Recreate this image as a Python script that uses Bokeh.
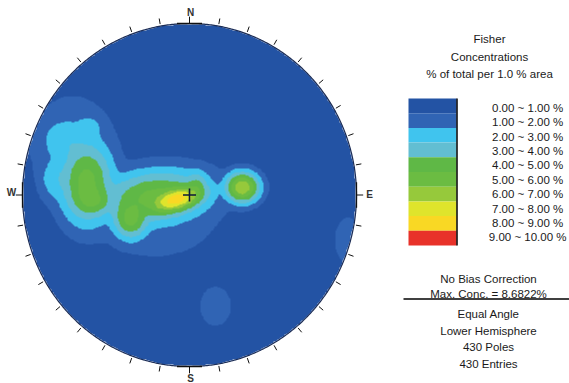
import numpy as np
from bokeh.plotting import figure
from bokeh.models import Range1d, LinearColorMapper
from bokeh.core.properties import value
from bokeh.embed import file_html
from bokeh.resources import INLINE

# ---------------- data ----------------
bin_lower = [0, 1, 2, 3, 4, 5, 6, 7, 8, 9]
bin_labels = ["0.00 ~  1.00 %", "1.00 ~  2.00 %", "2.00 ~  3.00 %", "3.00 ~  4.00 %",
              "4.00 ~  5.00 %", "5.00 ~  6.00 %", "6.00 ~  7.00 %", "7.00 ~  8.00 %",
              "8.00 ~  9.00 %", "9.00 ~ 10.00 %"]
palette = ["#2353a4", "#3064b4", "#40c4ee", "#62bed2", "#5fb846",
           "#6bbc42", "#96c93b", "#dfe42c", "#f9d824", "#e8322a"]

# pole clusters in net coordinates (unit circle, x = east, y = north)
cluster_x = [-0.078, 0.042, -0.204, -0.353, -0.617, -0.743, -0.802, -0.605, -0.581, 0.317, 0.156, 0.952, -0.701, -0.204, 0.036]
cluster_y = [-0.026, 0.055, -0.009, -0.137, 0.073, 0.318, 0.096, 0.388, -0.032, 0.044, -0.650, -0.265, 0.289, -0.102, 0.026]
cluster_sx = [0.132, 0.060, 0.263, 0.090, 0.130, 0.132, 0.084, 0.072, 0.100, 0.082, 0.100, 0.090, 0.240, 0.347, 0.130]
cluster_sy = [0.058, 0.070, 0.125, 0.100, 0.195, 0.117, 0.117, 0.070, 0.075, 0.072, 0.125, 0.150, 0.270, 0.240, 0.130]
cluster_peak = [8.68, 4.2, 5.4, 5.5, 5.5, 2.85, 2.8, 2.8, 5.0, 7.0, 1.55, 1.5, 1.8, 1.8, 1.6]
cluster_rot = [15, 0, 5, 0, 0, 0, 0, 0, 0, 0, 0, 0, 0, 0, 0]

max_conc = 8.6822
n_poles = 430
n_entries = 430
tick_az = list(range(0, 360, 10))
cardinal_az = [0, 90, 180, 270]
cardinal_labels = ["N", "E", "S", "W"]

# ---------------- layout helpers (reference pixel -> net units) ----------------
CX, CY, RX, RY = 189.0, 194.5, 167.0, 171.5
def X(px):
    return (px - CX) / RX
def Y(py):
    return (CY - py) / RY

W, H = 569, 383
p = figure(width=W, height=H, x_range=Range1d(X(0), X(W)), y_range=Range1d(Y(H), Y(0)),
           output_backend="svg", toolbar_location=None, min_border=0,
           x_axis_location=None, y_axis_location=None, background_fill_color="white")
p.grid.visible = False
p.outline_line_color = None

# ---------------- density field ----------------
n = 420
g = np.linspace(-1, 1, n)
gx, gy = np.meshgrid(g, g)
acc = np.zeros_like(gx)
for cx, cy, sx, sy, a, rot in zip(cluster_x, cluster_y, cluster_sx, cluster_sy, cluster_peak, cluster_rot):
    t = np.deg2rad(rot)
    dx = gx - cx
    dy = gy - cy
    u = dx * np.cos(t) + dy * np.sin(t)
    v = -dx * np.sin(t) + dy * np.cos(t)
    acc += (a * np.exp(-0.5 * ((u / sx) ** 2 + (v / sy) ** 2))) ** 4
field = acc ** 0.25
field = field * max_conc / field.max()
field[gx ** 2 + gy ** 2 > 1.0] = np.nan

mapper = LinearColorMapper(palette=palette, low=0, high=10, nan_color=(0, 0, 0, 0))
p.image(image=[field], x=-1, y=-1, dw=2, dh=2, color_mapper=mapper)

# net outline
th = np.linspace(0, 2 * np.pi, 721)
p.line(np.sin(th), np.cos(th), line_color="#1b2c55", line_width=1.2)

# ticks
az = np.deg2rad(np.array([a for a in tick_az if a not in cardinal_az]))
p.segment(x0=1.012 * np.sin(az), y0=1.012 * np.cos(az), x1=1.045 * np.sin(az), y1=1.045 * np.cos(az),
          line_color="#111111", line_width=1)
caz = np.deg2rad(np.array(cardinal_az))
p.segment(x0=np.sin(caz), y0=np.cos(caz), x1=1.04 * np.sin(caz), y1=1.04 * np.cos(caz),
          line_color="#111111", line_width=1)
half = 0.075
p.segment(x0=np.sin(caz) - half * np.cos(caz), y0=np.cos(caz) + half * np.sin(caz),
          x1=np.sin(caz) + half * np.cos(caz), y1=np.cos(caz) - half * np.sin(caz),
          line_color="#111111", line_width=1.3)
p.text(x=[X(190), X(369), X(190), X(11)], y=[Y(12), Y(194), Y(378), Y(192)], text=cardinal_labels,
       text_font=value("Liberation Sans"), text_font_size=value("10px"), text_font_style="bold",
       text_align="center", text_baseline="middle", text_color="#333333")

# centre cross
p.scatter(x=[0], y=[0], marker="cross", size=13, line_color="#0b1a3a", line_width=1.6)

# ---------------- legend ----------------
bin_h = 14.7
tops = [Y(98 + bin_h * i) for i in range(len(bin_lower))]
bots = [Y(98 + bin_h * (i + 1)) for i in range(len(bin_lower))]
p.quad(left=X(408), right=X(456), top=tops, bottom=bots, fill_color=palette, line_color=None)
p.line([X(456.5), X(456.5)], [Y(98), Y(245)], line_color="black", line_width=1.5)

p.text(x=[X(566)] * len(bin_labels), y=[Y(107.3 + 14.4 * i) for i in range(len(bin_labels))], text=bin_labels,
       text_font=value("Liberation Sans"), text_font_size=value("11.5px"),
       text_align="right", text_baseline="middle", text_color="#1a1a1a")

titles = ["Fisher", "Concentrations", "% of total per 1.0 % area"]
p.text(x=[X(489)] * 3, y=[Y(38), Y(56), Y(73)], text=titles,
       text_font=value("Liberation Sans"), text_font_size=value("11.5px"),
       text_align="center", text_baseline="middle", text_color="#1a1a1a")

info = ["No Bias Correction", "Max. Conc. = %.4f%%" % max_conc, "Equal Angle", "Lower Hemisphere",
        "%d Poles" % n_poles, "%d Entries" % n_entries]
p.text(x=[X(488)] * 6, y=[Y(278), Y(293), Y(313), Y(330), Y(346), Y(363)], text=info,
       text_font=value("Liberation Sans"), text_font_size=value("11.5px"),
       text_align="center", text_baseline="middle", text_color="#1a1a1a")
p.segment(x0=[X(403)], y0=[Y(298.5)], x1=[X(569)], y1=[Y(298.5)], line_color="black", line_width=1.3)

open("out.html", "w").write(file_html(p, INLINE))
